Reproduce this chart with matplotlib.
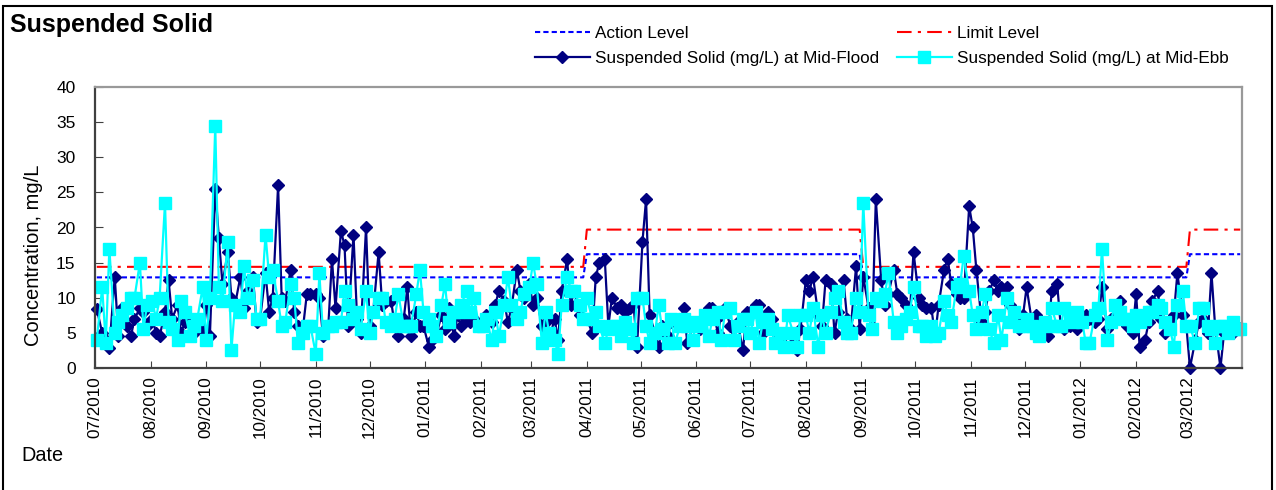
import numpy as np
import pandas as pd
import matplotlib
matplotlib.use("Agg")
import matplotlib.pyplot as plt
import matplotlib.dates as mdates
from matplotlib.patches import Rectangle

plt.rcParams['font.family'] = ['Liberation Sans', 'DejaVu Sans']

# sampling days: Mon / Wed / Fri, 07/2010 - 03/2012
all_days = pd.date_range('2010-07-01', '2012-03-31', freq='D')
dates = all_days[all_days.weekday.isin([0, 2, 4])]

# Suspended solid at mid-flood (mg/L), one line per month
flood = [
    8.4, 5, 4, 2.8, 13, 4.5, 8.5, 6, 4.5, 7, 8.5, 8, 6,                # 07/2010
    7, 5, 4.5, 8, 12.5, 7, 9, 5, 6.5, 6.5, 5, 7, 5.5,                  # 08/2010
    9, 4.5, 25.5, 18.5, 12, 16.5, 10, 9, 13, 8.5, 11, 13, 6.5,         # 09/2010
    7, 13.5, 8, 10, 26, 10, 9.5, 14, 8, 6, 6, 10.5, 10.5,              # 10/2010
    10.5, 10, 4.5, 6, 15.5, 8.5, 19.5, 17.5, 6, 19, 7, 5, 20,          # 11/2010
    6, 8, 16.5, 9, 9.5, 9.5, 6, 4.5, 7, 11.5, 4.5, 8, 6, 6,            # 12/2010
    3, 4, 4.5, 7.5, 5.5, 8.5, 4.5, 7.5, 6, 7, 6.5, 7, 6,               # 01/2011
    6, 7.5, 6.5, 9, 11, 9.5, 6.5, 8.5, 14, 11, 10, 12,                 # 02/2011
    9, 10, 6, 6.5, 4, 7, 4, 11, 15.5, 9, 11, 7.5, 7,                   # 03/2011
    7, 5, 13, 15, 15.5, 6, 10, 8.5, 9, 8, 8.5, 9, 3,                   # 04/2011
    18, 24, 7.5, 5, 3, 6, 4.5, 6.5, 7, 6.5, 8.5, 3.5, 6,               # 05/2011
    6, 5.5, 7.5, 8.5, 8.5, 5, 7.5, 8.5, 6, 4, 6.5, 2.5, 8,             # 06/2011
    8, 9, 9, 5, 8, 7, 4, 4.5, 3, 5, 3.5, 2.5, 5.5,                     # 07/2011
    12.5, 11, 13, 7.5, 6, 12.5, 12, 5, 8, 12.5, 7, 5.5, 14.5, 5.5,     # 08/2011
    13, 8.5, 6, 24, 12.5, 9, 10.5, 14, 10.5, 10, 9, 8, 16.5,           # 09/2011
    10, 9, 8.5, 8.5, 4.5, 9, 14, 15.5, 12, 10.5, 10, 10, 23,           # 10/2011
    20, 14, 6.5, 8, 11, 12.5, 11, 11.5, 11.5, 9, 7, 5.5, 7.5,          # 11/2011
    11.5, 6.5, 7.5, 6.5, 5, 4.5, 11, 12, 6, 5.5, 6, 6.5, 5.5,          # 12/2011
    6.5, 7.5, 7, 6.5, 7, 11.5, 5.5, 7, 8.5, 9.5, 6.5, 6, 5,            # 01/2012
    10.5, 3, 4, 6.5, 9.5, 11, 7, 5, 6.5, 7.5, 13.5, 7.5, 6,            # 02/2012
    0, 4, 6.5, 7, 5, 13.5, 6, 0, 5, 5.5, 5, 6, 5.5,                    # 03/2012
]

# Suspended solid at mid-ebb (mg/L)
ebb = [
    4, 11.5, 3.5, 17, 5, 6.5, 7.5, 8.5, 10, 10, 15, 5.5, 9,            # 07/2010
    9.5, 7, 10, 23.5, 6.5, 5.5, 4, 9.5, 8, 4.5, 6, 7, 11.5,            # 08/2010
    4, 10, 34.5, 11.5, 9.5, 18, 2.5, 9, 8, 14.5, 10, 12.5, 7,          # 09/2010
    7, 19, 13, 14, 9.5, 6, 6.5, 12, 10, 3.5, 5, 6, 6,                  # 10/2010
    2, 13.5, 5, 6, 6, 6.5, 6.5, 11, 9, 7, 8, 5.5, 11,                  # 11/2010
    5, 8, 10, 10, 6.5, 6, 7, 10.5, 6, 6, 6, 10.5, 14, 8,               # 12/2010
    7, 6, 4.5, 9, 12, 6.5, 8, 8, 9, 11, 8, 10, 6,                      # 01/2011
    6, 7, 4, 8, 4.5, 9, 13, 9, 7, 8, 10.5, 11.5,                       # 02/2011
    15, 12, 3.5, 8, 5, 4, 2, 9, 13, 11, 11, 9, 7,                      # 03/2011
    10, 7, 8, 6, 3.5, 5.5, 6, 6, 4.5, 6.5, 5.5, 3.5, 10,               # 04/2011
    10, 6, 3.5, 5, 9, 5.5, 3.5, 7, 3.5, 6, 7, 6, 4,                    # 05/2011
    6.5, 6, 7.5, 4.5, 7, 8, 4, 8, 8.5, 4, 6, 7, 7,                     # 06/2011
    5, 8, 3.5, 6.5, 7, 5.5, 3.5, 5, 3, 7.5, 5, 3, 7.5,                 # 07/2011
    7.5, 5, 8.5, 3, 7.5, 5, 8, 10, 11, 6.5, 5, 5, 10, 8,               # 08/2011
    23.5, 7.5, 5.5, 10, 9.5, 10.5, 13.5, 6.5, 5, 6, 7, 8, 11.5,        # 09/2011
    6, 6, 4.5, 6, 4.5, 5, 9.5, 7.5, 6.5, 11.5, 12, 16, 11,             # 10/2011
    7.5, 5.5, 8, 10.5, 5.5, 3.5, 7.5, 4, 10, 6.5, 8, 6, 6,             # 11/2011
    7, 6, 5, 4.5, 6.5, 6, 8.5, 6, 6, 8.5, 7.5, 6.5, 8,                 # 12/2011
    6.5, 3.5, 3.5, 7.5, 8.5, 17, 4, 6.5, 9, 8, 7, 7, 6,                # 01/2012
    7.5, 6.5, 7, 8, 8, 9, 8.5, 6.5, 5.5, 3, 9, 11, 6,                  # 02/2012
    6, 3.5, 8.5, 8.5, 6, 5.5, 3.5, 6, 6, 5, 6.5, 5.5, 5.5,             # 03/2012
]

# action / limit levels, each valid from the given start date
level_starts = pd.to_datetime(['2010-07-01', '2011-04-01', '2011-09-01', '2012-03-01'])
action_levels = [12.9, 16.2, 12.9, 16.2]
limit_levels = [14.4, 19.7, 14.4, 19.7]

idx = np.searchsorted(level_starts.values, dates.values, side='right') - 1
action = np.array(action_levels)[idx]
limit = np.array(limit_levels)[idx]

fig = plt.figure(figsize=(12.76, 4.9), dpi=100)
ax = fig.add_axes([95 / 1276, 122 / 490, 1147 / 1276, 281 / 490])

l_act, = ax.plot(dates, action, color='#0000FF', lw=1.5, dashes=(2.5, 1.5),
                 label='Action Level')
l_lim, = ax.plot(dates, limit, color='#FF0000', lw=1.5, dashes=(7, 3, 1.5, 3),
                 label='Limit Level')
l_fl, = ax.plot(dates, flood, color='#000080', lw=1.6, marker='D', ms=6.3,
                clip_on=False, label='Suspended Solid (mg/L) at Mid-Flood')
l_eb, = ax.plot(dates, ebb, color='#00FFFF', lw=1.6, marker='s', ms=8,
                clip_on=False, label='Suspended Solid (mg/L) at Mid-Ebb')

ax.set_ylim(0, 40)
ax.set_yticks(np.arange(0, 41, 5))
ax.set_xlim(pd.Timestamp('2010-07-01'), pd.Timestamp('2012-03-31'))
ax.xaxis.set_major_locator(mdates.MonthLocator())
ax.xaxis.set_major_formatter(mdates.DateFormatter('%m/%Y'))
ax.tick_params(axis='x', direction='in', length=5, labelsize=12.3, rotation=90,
               pad=6, color='#404040')
ax.tick_params(axis='y', direction='in', length=6, labelsize=12.5, pad=14,
               color='#404040')
for s in ['left', 'bottom']:
    ax.spines[s].set_color('#404040')
    ax.spines[s].set_linewidth(1.6)
for s in ['top', 'right']:
    ax.spines[s].set_color('#999999')
    ax.spines[s].set_linewidth(1.6)

ax.set_ylabel('Concentration, mg/L', fontsize=14.5)
ax.yaxis.set_label_coords(-0.045, 0.40)

fig.text(10 / 1276, 1 - 25 / 490, 'Suspended Solid', fontsize=18,
         fontweight='bold', va='center', ha='left')
fig.text(21 / 1276, 1 - 455 / 490, 'Date', fontsize=14.3, va='center', ha='left')

fig.legend(handles=[l_act, l_fl, l_lim, l_eb], loc='upper left',
           bbox_to_anchor=(535 / 1276, 1 - 26 / 490), ncol=2, frameon=False,
           fontsize=12.3, borderpad=0, borderaxespad=0, handlelength=3.2,
           handletextpad=0.3, columnspacing=1.05, labelspacing=0.58)

fig.patches.append(Rectangle((3 / 1276, -0.05), 1269 / 1276, 1.05 - 6 / 490,
                             transform=fig.transFigure, fill=False,
                             edgecolor='black', lw=1.5))

fig.savefig('out.png', dpi=100)
